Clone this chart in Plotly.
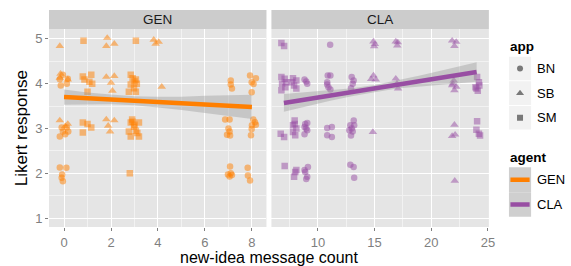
import plotly.graph_objects as go

# ---------------- data (jittered positions) ----------------
GEN_BN_x = [-0.05, -0.18, 0.12, -0.14, 0.16, -0.18, -0.05, 0.12, 0.05, -0.10, 0.18, -0.18, 0.10, -0.10, -0.05, -0.08,
            7.10, 7.10, 7.15, 6.86, 7.05, 7.00, 6.94, 7.07, 7.05, 7.07, 7.10, 7.05, 7.15, 6.98,
            7.92, 8.17, 7.99, 8.07, 7.99, 8.06, 8.13, 8.17, 7.99, 8.00, 7.96, 7.82, 7.83, 7.92]
GEN_BN_y = [4.20, 4.10, 4.00, 3.96, 4.11, 2.82, 2.93, 3.02, 2.87, 3.02, 2.93, 2.13, 2.12, 1.90, 1.82, 1.97,
            4.07, 3.98, 3.89, 3.20, 3.20, 3.00, 2.86, 2.84, 2.93, 2.15, 2.00, 1.93, 1.96, 1.97,
            4.18, 4.12, 4.03, 3.99, 3.81, 3.20, 3.14, 3.08, 2.99, 3.07, 2.85, 2.12, 1.95, 1.84]
GEN_SB_x = [-0.18, 1.84, 1.80, 2.14, 3.82, 4.03, 3.90, 4.16, 1.80, 2.14, 2.00, 2.06, 1.80, 2.14, 1.88, 1.96,
            -0.18, 0.16, -0.15, -0.18, 0.16, 0.05]
GEN_SB_y = [4.84, 5.02, 4.84, 4.89, 4.98, 4.93, 4.89, 3.93, 4.15, 4.17, 4.02, 3.84, 3.20, 3.18, 3.06, 2.93,
            4.13, 4.09, 4.22, 3.18, 3.10, 3.05]
GEN_SM_x = [0.83, 3.06, 0.80, 1.16, 1.08, 1.00, 1.20, 0.87, 0.80, 0.80, 1.16, 1.00,
            2.84, 3.06, 2.84, 2.98, 3.06, 2.76, 3.10, 3.00, 2.92,
            2.84, 3.19, 2.98, 2.76, 2.84, 3.19, 3.06, 2.90, 3.00, 3.12, 2.92, 2.80]
GEN_SM_y = [4.96, 4.96, 4.16, 4.20, 4.04, 3.82, 4.00, 4.09, 3.13, 2.91, 3.02, 3.10,
            4.20, 4.09, 3.98, 3.90, 3.82, 3.82, 4.00, 4.05, 4.12,
            3.13, 3.13, 3.04, 2.93, 2.82, 2.82, 2.95, 3.20, 3.08, 2.90, 3.15, 2.00]

CLA_BN_x = [8.82, 9.06, 8.97, 8.88, 9.06, 8.82, 9.06, 8.82, 8.97, 9.12, 8.88, 9.06, 8.97, 8.82,
            11.08, 10.87, 11.10, 10.82, 10.93, 11.10, 10.82, 10.82, 11.23, 10.82, 11.23,
            12.98, 13.07, 12.92, 13.15, 13.16, 12.86, 12.98, 12.77, 13.07, 12.92, 13.20, 12.86, 13.15, 13.20]
CLA_BN_y = [4.09, 4.00, 4.05, 3.10, 3.12, 3.03, 2.96, 2.87, 3.00, 2.14, 2.03, 1.92, 1.87, 2.07,
            4.87, 4.18, 4.18, 4.03, 3.92, 3.87, 3.98, 3.01, 3.03, 2.85, 2.81,
            4.15, 4.00, 3.90, 4.07, 3.18, 3.07, 3.00, 2.96, 2.93, 2.84, 3.07, 2.19, 2.14, 1.90]
CLA_SB_x = [14.90, 14.96, 15.02, 14.90, 14.70, 15.10, 14.85, 16.87, 17.00, 17.05, 16.87, 17.07, 16.97,
            21.84, 22.20, 22.04, 21.98, 21.84, 22.20, 22.04, 21.90, 22.04, 21.84, 22.10, 22.07]
CLA_SB_y = [4.94, 4.83, 4.88, 4.18, 4.10, 4.09, 2.92, 4.94, 4.85, 4.92, 4.11, 3.89, 4.00,
            4.96, 4.93, 4.84, 4.07, 3.96, 3.93, 3.85, 4.00, 3.08, 2.83, 2.86, 1.83]
CLA_SM_x = [6.78, 7.02, 6.78, 7.07, 6.84, 7.13, 6.78, 7.20, 6.72, 7.02, 7.07,
            7.80, 8.10, 7.90, 8.10, 7.70, 7.95, 7.80, 8.10, 7.80, 8.00, 7.95, 8.00, 7.90, 8.10,
            24.04, 24.20, 23.98, 24.10, 23.90, 24.24, 24.04, 23.98, 24.20, 24.30]
CLA_SM_y = [4.91, 4.84, 4.15, 4.11, 4.00, 3.92, 3.85, 4.03, 2.88, 2.81, 2.16,
            4.12, 4.07, 3.96, 3.89, 4.03, 3.18, 3.07, 3.00, 2.92, 2.85, 3.10, 2.03, 1.92, 2.07,
            4.15, 4.03, 3.89, 3.84, 3.92, 3.96, 3.16, 2.97, 2.88, 2.84]

# linear smooth with confidence band
GEN_fit_x = [0, 1, 2, 3, 4, 5, 6, 7, 8]
GEN_fit_y = [3.70, 3.67, 3.65, 3.62, 3.59, 3.56, 3.54, 3.51, 3.48]
GEN_fit_hi = [3.87, 3.80, 3.76, 3.72, 3.71, 3.71, 3.73, 3.74, 3.75]
GEN_fit_lo = [3.53, 3.54, 3.54, 3.52, 3.47, 3.41, 3.35, 3.28, 3.21]
CLA_fit_x = [7, 9, 11, 13, 15, 17, 19, 21, 24]
CLA_fit_y = [3.57, 3.65, 3.73, 3.81, 3.89, 3.98, 4.06, 4.14, 4.26]
CLA_fit_hi = [3.77, 3.81, 3.85, 3.90, 3.97, 4.07, 4.18, 4.30, 4.48]
CLA_fit_lo = [3.37, 3.49, 3.61, 3.72, 3.81, 3.89, 3.94, 3.98, 4.04]

panels = ["GEN", "CLA"]
apps = ["BN", "SB", "SM"]
agents = ["GEN", "CLA"]
y_ticks = [1, 2, 3, 4, 5]
gen_x_ticks = [0, 2, 4, 6, 8]
cla_x_ticks = [10, 15, 20, 25]

# ---------------- style ----------------
FONT = "Liberation Sans, Arial, sans-serif"
COL = {"GEN": "#FF7F00", "CLA": "#984EA3"}
RGBA = {"GEN": "rgba(255,127,0,0.5)", "CLA": "rgba(152,78,163,0.5)"}
SYM = {"BN": "circle", "SB": "triangle-up", "SM": "square"}
SIZE = {"BN": 6.5, "SB": 7.5, "SM": 6.5}

W, H = 571, 266
ML, MR, MT, MB = 49, 0, 10, 39
PW = W - ML - MR
PH = H - MT - MB
def px_x(p):
    return (p - ML) / PW
def px_y(p):
    return (H - MB - p) / PH

data = {
    ("GEN", "BN"): (GEN_BN_x, GEN_BN_y), ("GEN", "SB"): (GEN_SB_x, GEN_SB_y), ("GEN", "SM"): (GEN_SM_x, GEN_SM_y),
    ("CLA", "BN"): (CLA_BN_x, CLA_BN_y), ("CLA", "SB"): (CLA_SB_x, CLA_SB_y), ("CLA", "SM"): (CLA_SM_x, CLA_SM_y),
}
fits = {
    "GEN": (GEN_fit_x, GEN_fit_y, GEN_fit_lo, GEN_fit_hi),
    "CLA": (CLA_fit_x, CLA_fit_y, CLA_fit_lo, CLA_fit_hi),
}

fig = go.Figure()
axmap = {"GEN": ("x", "y"), "CLA": ("x2", "y2")}
for p in panels:
    xa, ya = axmap[p]
    for a in apps:
        xs, ys = data[(p, a)]
        fig.add_trace(go.Scatter(x=xs, y=ys, mode="markers", xaxis=xa, yaxis=ya, showlegend=False,
                                 marker=dict(symbol=SYM[a], size=SIZE[a], color=RGBA[p], line=dict(width=0))))
    fx, fy, flo, fhi = fits[p]
    fig.add_trace(go.Scatter(x=fx + fx[::-1], y=fhi + flo[::-1], mode="lines", fill="toself",
                             fillcolor="rgba(153,153,153,0.4)", line=dict(width=0), xaxis=xa, yaxis=ya,
                             showlegend=False, hoverinfo="skip"))
    fig.add_trace(go.Scatter(x=fx, y=fy, mode="lines", line=dict(color=COL[p], width=4.5),
                             xaxis=xa, yaxis=ya, showlegend=False))

# ---------------- legend drawn in a pixel-coordinate overlay axis ----------------
leg_x0, leg_x1 = 495, 571
key_x0, key_x1 = 514.3, 536.7
key_cx = (key_x0 + key_x1) / 2
app_rows = [(56.7, 80.3), (81.3, 105.0), (106.0, 129.5)]
agent_rows = [(167.3, 192.3), (192.3, 216.7)]
shapes = []
for (t, b) in app_rows:
    shapes.append(dict(type="rect", xref="x3", yref="y3", x0=key_x0, x1=key_x1, y0=t, y1=b,
                       fillcolor="#F2F2F2", line=dict(width=0), layer="below"))
for (t, b) in agent_rows:
    shapes.append(dict(type="rect", xref="x3", yref="y3", x0=key_x0, x1=key_x1, y0=t, y1=b,
                       fillcolor="#CFCFCF", line=dict(width=0), layer="below"))
for a, (t, b) in zip(apps, app_rows):
    fig.add_trace(go.Scatter(x=[key_cx], y=[(t + b) / 2], mode="markers", xaxis="x3", yaxis="y3",
                             showlegend=False, hoverinfo="skip",
                             marker=dict(symbol=SYM[a], size=SIZE[a] - 0.5, color="rgba(0,0,0,0.5)", line=dict(width=0))))
for g, (t, b) in zip(agents, agent_rows):
    c = (t + b) / 2
    fig.add_trace(go.Scatter(x=[key_x0 + 1.5, key_x1 - 1.5], y=[c, c], mode="lines", xaxis="x3", yaxis="y3",
                             showlegend=False, hoverinfo="skip", line=dict(color=COL[g], width=4.5)))

annotations = []
annotations.append(dict(text="<b>app</b>", x=513, y=46.7, xref="x3", yref="y3", showarrow=False,
                        xanchor="left", yanchor="middle", font=dict(family=FONT, size=13.5, color="#000")))
annotations.append(dict(text="<b>agent</b>", x=513, y=157.3, xref="x3", yref="y3", showarrow=False,
                        xanchor="left", yanchor="middle", font=dict(family=FONT, size=13.5, color="#000")))
for a, (t, b) in zip(apps, app_rows):
    annotations.append(dict(text=a, x=541, y=(t + b) / 2, xref="x3", yref="y3", showarrow=False,
                            xanchor="left", yanchor="middle", font=dict(family=FONT, size=13, color="#000")))
for g, (t, b) in zip(agents, agent_rows):
    annotations.append(dict(text=g, x=541, y=(t + b) / 2, xref="x3", yref="y3", showarrow=False,
                            xanchor="left", yanchor="middle", font=dict(family=FONT, size=13, color="#000")))

# ---------------- panels, strips ----------------
gen_dom = [px_x(49), px_x(269)]
cla_dom = [px_x(274), px_x(494)]
y_dom = [0, px_y(29)]
for dom, label in [(gen_dom, "GEN"), (cla_dom, "CLA")]:
    shapes.append(dict(type="rect", xref="paper", yref="paper", x0=dom[0], x1=dom[1], y0=y_dom[0], y1=y_dom[1],
                       fillcolor="#E5E5E5", line=dict(width=0), layer="below"))
    shapes.append(dict(type="rect", xref="paper", yref="paper", x0=dom[0], x1=dom[1], y0=y_dom[1], y1=1,
                       fillcolor="#CCCCCC", line=dict(width=0), layer="below"))
    annotations.append(dict(text=label, x=(dom[0] + dom[1]) / 2, y=(y_dom[1] + 1) / 2, xref="paper", yref="paper",
                            showarrow=False, xanchor="center", yanchor="middle",
                            font=dict(family=FONT, size=13.5, color="#1A1A1A")))

annotations.append(dict(text="new-idea message count", x=px_x(271.5), y=px_y(257.5), xref="paper", yref="paper",
                        showarrow=False, xanchor="center", yanchor="middle",
                        font=dict(family=FONT, size=16, color="#000")))
annotations.append(dict(text="Likert response", x=px_x(21), y=px_y(128), xref="paper", yref="paper",
                        showarrow=False, xanchor="center", yanchor="middle", textangle=-90,
                        font=dict(family=FONT, size=17, color="#000")))

tickfont = dict(family=FONT, size=13, color="#7F7F7F")
common_x = dict(showline=False, zeroline=False, gridcolor="#FFFFFF", gridwidth=1.3, ticks="outside", ticklen=3,
                tickcolor="#7F7F7F", tickwidth=1, tickfont=tickfont, layer="below traces")
fig.update_layout(
    width=W, height=H, margin=dict(l=ML, r=MR, t=MT, b=MB),
    paper_bgcolor="#FFFFFF", plot_bgcolor="rgba(0,0,0,0)",
    showlegend=False,
    xaxis=dict(domain=gen_dom, range=[-0.64, 8.62], tickvals=gen_x_ticks, anchor="y",
               minor=dict(dtick=1, tick0=0, showgrid=True, gridcolor="#F2F2F2", gridwidth=0.6, ticks=""), **common_x),
    xaxis2=dict(domain=cla_dom, range=[5.9, 25.08], tickvals=cla_x_ticks, anchor="y2",
                minor=dict(dtick=2.5, tick0=0, showgrid=True, gridcolor="#F2F2F2", gridwidth=0.6, ticks=""), **common_x),
    yaxis=dict(domain=y_dom, range=[0.8, 5.22], tickvals=y_ticks, anchor="x",
               minor=dict(dtick=0.5, tick0=0, showgrid=True, gridcolor="#F2F2F2", gridwidth=0.6, ticks=""), **common_x),
    yaxis2=dict(domain=y_dom, range=[0.8, 5.22], tickvals=y_ticks, anchor="x2", showticklabels=False, ticks="",
                minor=dict(dtick=0.5, tick0=0, showgrid=True, gridcolor="#F2F2F2", gridwidth=0.6, ticks=""),
                showline=False, zeroline=False, gridcolor="#FFFFFF", gridwidth=1.3, layer="below traces"),
    xaxis3=dict(domain=[px_x(leg_x0), px_x(leg_x1)], range=[leg_x0, leg_x1], visible=False, anchor="y3"),
    yaxis3=dict(domain=[0, 1], range=[H - MB, MT], visible=False, anchor="x3"),
    shapes=shapes, annotations=annotations,
)

fig.write_html("out.html", config={"displayModeBar": False},
               post_script="document.body.style.margin='0px';document.body.style.overflow='hidden';")
